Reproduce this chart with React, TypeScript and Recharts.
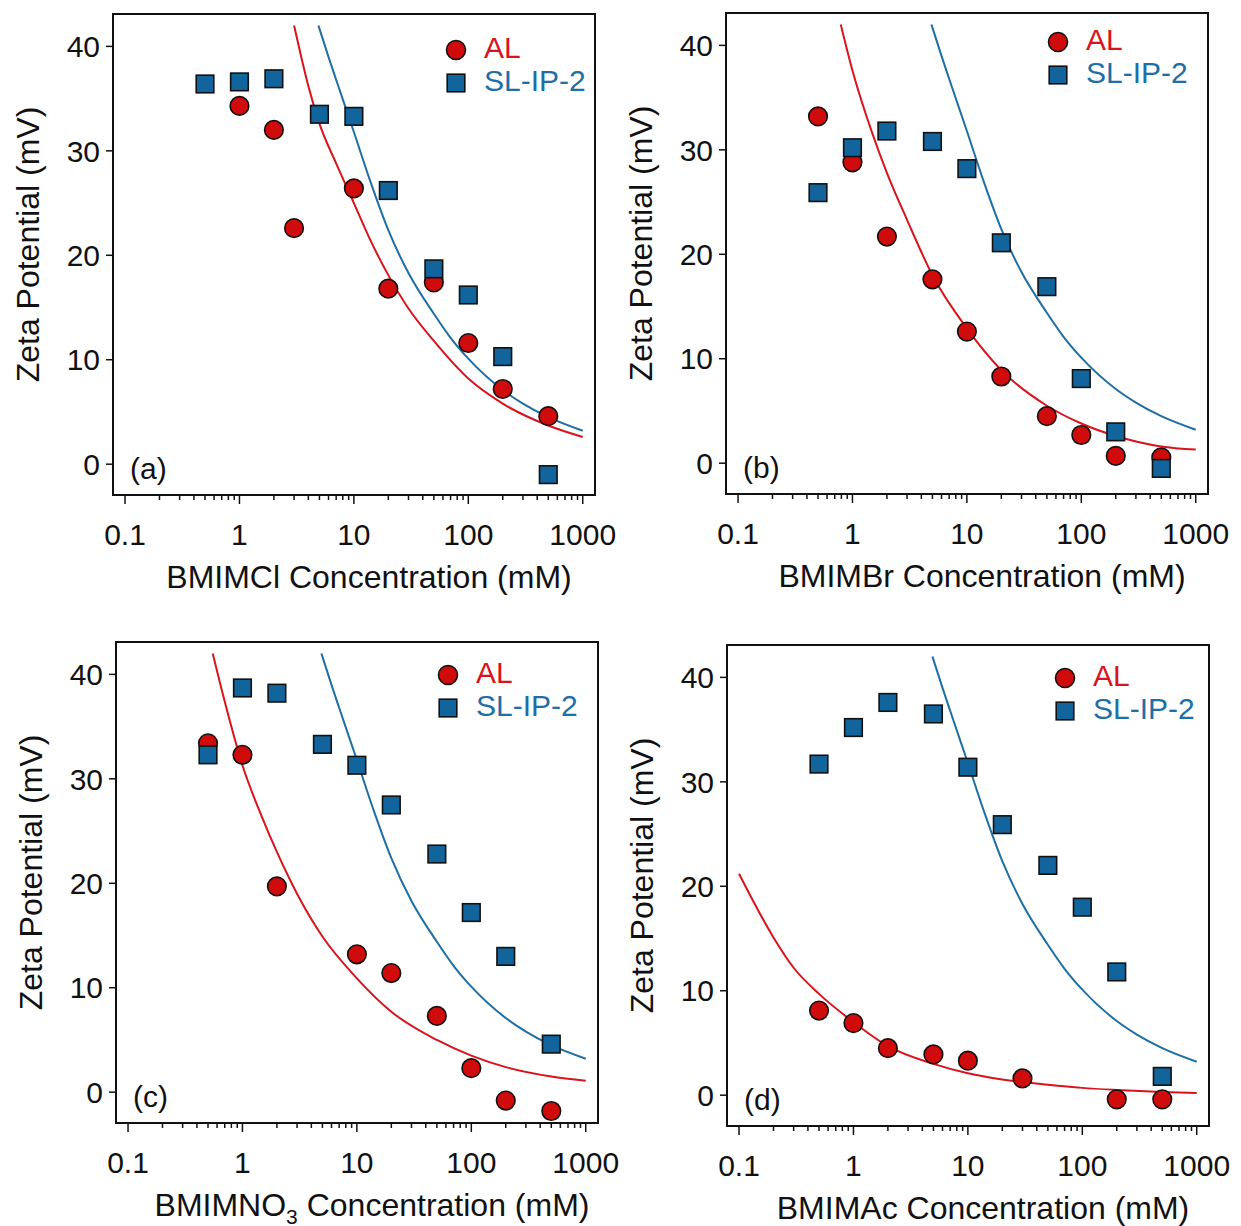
import React from "react";
import { ScatterChart, Scatter, XAxis, YAxis, ReferenceArea } from "recharts";

const FONT = "'Liberation Sans', Arial, Helvetica, sans-serif";
const INK = "#111";
const RED = "#d8141c";
const RED_FILL = "#cf0b0b";
const BLUE = "#1d6fa5";
const BLUE_FILL = "#12649c";

const CHART_W = 650;
const CHART_H = 610;
const X_DOMAIN = [0.0785, 1280];
const Y_DOMAIN = [-2.95, 43.1];

const xMajor = [0.1, 1, 10, 100, 1000];
const xMinorSteps = [2, 3, 4, 5, 6, 7, 8, 9];
const xTicks = xMajor.flatMap((m) => (m < 1000 ? [m, ...xMinorSteps.map((k) => m * k)] : [m]));
const yTicks = [0, 10, 20, 30, 40];
const seriesNames = ["AL", "SL-IP-2"];

// SL-IP-2 was measured at the same concentrations in all four panels
const slConc = [0.5, 1, 2, 5, 10, 20, 50, 100, 200, 500];

// (a) BMIMCl
const alConcA = [1, 2, 3, 10, 20, 50, 100, 200, 500];
const alZetaA = [34.3, 32.0, 22.6, 26.4, 16.8, 17.4, 11.6, 7.2, 4.6];
const slZetaA = [36.4, 36.6, 36.9, 33.5, 33.3, 26.2, 18.7, 16.2, 10.3, -1.0];

// (b) BMIMBr
const alConcB = [0.5, 1, 2, 5, 10, 20, 50, 100, 200, 500];
const alZetaB = [33.2, 28.8, 21.7, 17.6, 12.6, 8.3, 4.5, 2.7, 0.7, 0.55];
const slZetaB = [25.9, 30.2, 31.8, 30.8, 28.2, 21.1, 16.9, 8.1, 3.0, -0.5];

// (c) BMIMNO3
const alConcC = [0.5, 1, 2, 10, 20, 50, 100, 200, 500];
const alZetaC = [33.4, 32.3, 19.7, 13.2, 11.4, 7.3, 2.3, -0.8, -1.8];
const slZetaC = [32.3, 38.7, 38.2, 33.3, 31.3, 27.5, 22.8, 17.2, 13.0, 4.6];

// (d) BMIMAc
const alConcD = [0.5, 1, 2, 5, 10, 30, 200, 500];
const alZetaD = [8.1, 6.9, 4.5, 3.9, 3.3, 1.6, -0.4, -0.4];
const slZetaD = [31.7, 35.2, 37.6, 36.5, 31.4, 25.9, 22.0, 18.0, 11.8, 1.8];

// fitted curves
const blueFitX = [4.9, 6, 7, 10, 14, 20, 30, 50, 70, 100, 200, 300, 500, 1000];
const blueFitY = [42, 39, 36.8, 31.8, 27, 22.4, 18.3, 14.4, 12.1, 10.1, 7.1, 5.8, 4.5, 3.2];

const redFitAX = [3.0, 3.5, 4, 5, 7, 10, 14, 20, 30, 50, 100, 200, 500, 1000];
const redFitAY = [42, 38.8, 36.2, 32.6, 28.8, 25.0, 21.4, 18.1, 14.9, 11.8, 8.2, 5.8, 3.7, 2.6];

const redFitBX = [0.79, 1, 1.5, 2, 3, 5, 10, 20, 50, 100, 200, 500, 1000];
const redFitBY = [42, 37.6, 31.5, 27.8, 23.3, 18.0, 12.9, 8.9, 5.5, 3.8, 2.6, 1.6, 1.3];

const redFitCX = [0.55, 0.7, 1, 1.5, 2, 3, 5, 10, 20, 50, 100, 200, 500, 1000];
const redFitCY = [42, 37.4, 31.3, 26.2, 23.0, 19.0, 14.9, 10.9, 7.7, 5.0, 3.5, 2.4, 1.5, 1.1];

const redFitDX = [0.1, 0.2, 0.3, 0.5, 1, 2, 5, 10, 20, 50, 100, 200, 500, 1000];
const redFitDY = [21.2, 15.1, 12.2, 9.7, 7.0, 4.7, 3.0, 2.1, 1.5, 1.0, 0.7, 0.5, 0.3, 0.2];

const pts = (xs: number[], ys: number[]) => xs.map((x, i) => ({ x, y: ys[i] }));

type PanelCfg = {
  tag: string;
  left: number;
  top: number;
  salt: string;
  sub?: string;
  al: { x: number; y: number }[];
  sl: { x: number; y: number }[];
  fit: { x: number; y: number }[];
  legend: [number, number]; // marker x from box right, first marker y from box top
};

const panels: PanelCfg[] = [
  { tag: "(a)", left: 0, top: 0, salt: "BMIMCl", al: pts(alConcA, alZetaA), sl: pts(slConc, slZetaA), fit: pts(redFitAX, redFitAY), legend: [139, 36] },
  { tag: "(b)", left: 613, top: -1, salt: "BMIMBr", al: pts(alConcB, alZetaB), sl: pts(slConc, slZetaB), fit: pts(redFitBX, redFitBY), legend: [150, 29] },
  { tag: "(c)", left: 3, top: 628, salt: "BMIMNO", sub: "3", al: pts(alConcC, alZetaC), sl: pts(slConc, slZetaC), fit: pts(redFitCX, redFitCY), legend: [150, 33] },
  { tag: "(d)", left: 614, top: 631, salt: "BMIMAc", al: pts(alConcD, alZetaD), sl: pts(slConc, slZetaD), fit: pts(redFitDX, redFitDY), legend: [144, 33] },
];

const blueFit = pts(blueFitX, blueFitY);

const renderXTick = (props: any) => {
  const { x, y, payload } = props;
  const major = xMajor.includes(payload.value);
  return (
    <g>
      <line x1={x} x2={x} y1={y} y2={y + (major ? 9 : 5)} stroke={INK} strokeWidth={1.5} />
      {major && (
        <text x={x} y={y + 50} textAnchor="middle" fontSize={30} fontFamily={FONT} fill={INK}>
          {String(payload.value)}
        </text>
      )}
    </g>
  );
};

const renderYTick = (props: any) => {
  const { x, y, payload } = props;
  return (
    <g>
      <line x1={x - 7} x2={x} y1={y} y2={y} stroke={INK} strokeWidth={1.5} />
      <text x={x - 13} y={y + 10.7} textAnchor="end" fontSize={30} fontFamily={FONT} fill={INK}>
        {payload.value}
      </text>
    </g>
  );
};

const Dot = (p: any) => <circle cx={p.cx} cy={p.cy} r={9.3} fill={RED_FILL} stroke={INK} strokeWidth={1.6} />;
const Box = (p: any) => <rect x={p.cx - 8.8} y={p.cy - 8.8} width={17.6} height={17.6} fill={BLUE_FILL} stroke={INK} strokeWidth={1.6} />;
const NoDot = () => <g />;

function Panel({ cfg }: { cfg: PanelCfg }) {
  const xTitle = (props: any) => {
    const { x, y, width } = props.viewBox;
    return (
      <text x={x + width / 2 + 15} y={y + 93} textAnchor="middle" fontSize={32} fontFamily={FONT} fill={INK}>
        {cfg.salt}
        {cfg.sub && (
          <tspan dy={8} fontSize={21}>
            {cfg.sub}
          </tspan>
        )}
        <tspan dy={cfg.sub ? -8 : 0}>{" Concentration (mM)"}</tspan>
      </text>
    );
  };

  const yTitle = (props: any) => {
    const { x, y, width, height } = props.viewBox;
    const tx = x + width - 74;
    const ty = y + height / 2 - 10;
    return (
      <text x={tx} y={ty} transform={`rotate(-90,${tx},${ty})`} textAnchor="middle" fontSize={32} fontFamily={FONT} fill={INK}>
        Zeta Potential (mV)
      </text>
    );
  };

  // legend and panel tag, placed inside the plot frame
  const overlay = (props: any) => {
    const { x, y, width, height } = props.viewBox;
    const mx = x + width - cfg.legend[0];
    const my1 = y + cfg.legend[1];
    const my2 = my1 + 33;
    return (
      <g fontFamily={FONT}>
        <circle cx={mx} cy={my1} r={9.5} fill={RED_FILL} stroke={INK} strokeWidth={1.6} />
        <rect x={mx - 8.8} y={my2 - 8.8} width={17.6} height={17.6} fill={BLUE_FILL} stroke={INK} strokeWidth={1.6} />
        <text x={mx + 28} y={my1 + 8} fontSize={30} fill={RED}>
          {seriesNames[0]}
        </text>
        <text x={mx + 28} y={my2 + 8} fontSize={30} fill={BLUE}>
          {seriesNames[1]}
        </text>
        <text x={x + 17} y={y + height - 16} fontSize={30} fill={INK}>
          {cfg.tag}
        </text>
      </g>
    );
  };

  return (
    <div style={{ position: "absolute", left: cfg.left, top: cfg.top }}>
      <ScatterChart width={CHART_W} height={CHART_H} margin={{ top: 14, right: 55, bottom: 0, left: 0 }}>
        <XAxis
          type="number"
          dataKey="x"
          scale="log"
          domain={X_DOMAIN}
          allowDataOverflow
          ticks={xTicks}
          interval={0}
          tick={renderXTick}
          tickLine={false}
          tickSize={0}
          tickMargin={0}
          height={115}
          axisLine={false}
          label={xTitle}
        />
        <YAxis
          type="number"
          dataKey="y"
          domain={Y_DOMAIN}
          allowDataOverflow
          ticks={yTicks}
          interval={0}
          tick={renderYTick}
          tickLine={false}
          tickSize={0}
          tickMargin={0}
          width={113}
          axisLine={false}
          label={yTitle}
        />
        <ReferenceArea
          x1={X_DOMAIN[0]}
          x2={X_DOMAIN[1]}
          y1={Y_DOMAIN[0]}
          y2={Y_DOMAIN[1]}
          fill="none"
          stroke={INK}
          strokeWidth={2}
          ifOverflow="visible"
          label={overlay}
        />
        <Scatter data={cfg.fit} line={{ stroke: RED, strokeWidth: 2 }} lineJointType="monotoneX" shape={NoDot} isAnimationActive={false} />
        <Scatter data={blueFit} line={{ stroke: BLUE, strokeWidth: 2 }} lineJointType="monotoneX" shape={NoDot} isAnimationActive={false} />
        <Scatter name={seriesNames[0]} data={cfg.al} shape={Dot} isAnimationActive={false} />
        <Scatter name={seriesNames[1]} data={cfg.sl} shape={Box} isAnimationActive={false} />
      </ScatterChart>
    </div>
  );
}

export default function App() {
  return (
    <div style={{ position: "absolute", left: 0, top: 0, width: 1241, height: 1226, background: "#fff" }}>
      {panels.map((p) => (
        <Panel key={p.tag} cfg={p} />
      ))}
    </div>
  );
}
